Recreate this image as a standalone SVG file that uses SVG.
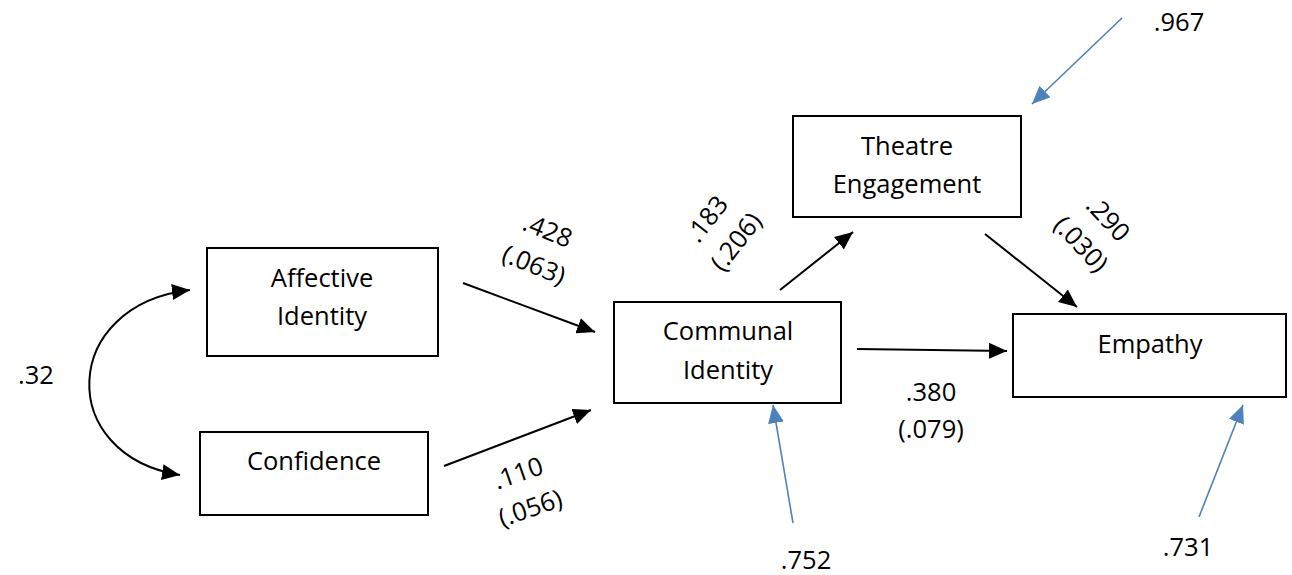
<svg xmlns="http://www.w3.org/2000/svg" width="1292" height="575" viewBox="0 0 1292 575">
<style>
.box{fill:#fff;stroke:#000;stroke-width:2}
.t{font-family:"Open Sans","Noto Sans",sans-serif;font-size:25.5px;fill:#000;text-anchor:middle}
.c{fill:none;stroke:#000;stroke-width:2}
.b{fill:none;stroke:#4F81BD;stroke-width:1.6}
</style>
<defs>
<marker id="ak" markerUnits="userSpaceOnUse" markerWidth="20" markerHeight="16" refX="18" refY="8" orient="auto"><path d="M0,0 L18,8 L0,16 Z" fill="#000"/></marker>
<marker id="aks" markerUnits="userSpaceOnUse" markerWidth="20" markerHeight="16" refX="18" refY="8" orient="auto-start-reverse"><path d="M0,0 L18,8 L0,16 Z" fill="#000"/></marker>
<marker id="ab" markerUnits="userSpaceOnUse" markerWidth="20" markerHeight="16" refX="18" refY="8" orient="auto"><path d="M0,0 L18,8 L0,16 Z" fill="#4F81BD"/></marker>
</defs>
<rect width="1292" height="575" fill="#fff"/>
<g id="connectors">
<path class="c" d="M190 290 C60 305,55 455,180 475" marker-start="url(#aks)" marker-end="url(#aks)"/>
<line class="c" x1="463" y1="283" x2="595" y2="332" marker-end="url(#ak)"/>
<line class="c" x1="444" y1="466" x2="591" y2="410" marker-end="url(#ak)"/>
<line class="c" x1="780" y1="290" x2="853" y2="232" marker-end="url(#ak)"/>
<line class="c" x1="985" y1="234" x2="1077" y2="307" marker-end="url(#ak)"/>
<line class="c" x1="857" y1="349" x2="1007" y2="351" marker-end="url(#ak)"/>
<line class="b" x1="1122" y1="18" x2="1032" y2="104" marker-end="url(#ab)"/>
<line class="b" x1="793" y1="523" x2="773" y2="405" marker-end="url(#ab)"/>
<line class="b" x1="1199" y1="517" x2="1243" y2="405" marker-end="url(#ab)"/>
</g>
<g id="affective"><rect class="box" x="207" y="248" width="231" height="108"/><text class="t" x="322" y="287">Affective</text><text class="t" x="322" y="325">Identity</text></g>
<g id="confidence"><rect class="box" x="200" y="432" width="228" height="83"/><text class="t" x="314" y="470">Confidence</text></g>
<g id="communal"><rect class="box" x="614" y="302" width="227" height="101"/><text class="t" x="728" y="340">Communal</text><text class="t" x="728" y="379">Identity</text></g>
<g id="theatre"><rect class="box" x="793" y="116" width="228" height="101"/><text class="t" x="907" y="155">Theatre</text><text class="t" x="907" y="193">Engagement</text></g>
<g id="empathy"><rect class="box" x="1013" y="314" width="273" height="83"/><text class="t" x="1150" y="353">Empathy</text></g>
<g id="labels">
<text class="t" x="36" y="384">.32</text>
<text class="t" x="1179" y="31">.967</text>
<text class="t" x="806" y="569">.752</text>
<text class="t" x="1188" y="556">.731</text>
<text class="t" x="931" y="401">.380</text>
<text class="t" x="931" y="438">(.079)</text>
<g transform="translate(541,247) rotate(22)"><text class="t" x="0" y="-9">.428</text><text class="t" x="0" y="28">(.063)</text></g>
<g transform="translate(721,230) rotate(-52)"><text class="t" x="0" y="-9">.183</text><text class="t" x="0" y="28">(.206)</text></g>
<g transform="translate(1095,231) rotate(47)"><text class="t" x="0" y="-9">.290</text><text class="t" x="0" y="28">(.030)</text></g>
<g transform="translate(524,490) rotate(-19)"><text class="t" x="0" y="-9">.110</text><text class="t" x="0" y="28">(.056)</text></g>
</g>
</svg>
